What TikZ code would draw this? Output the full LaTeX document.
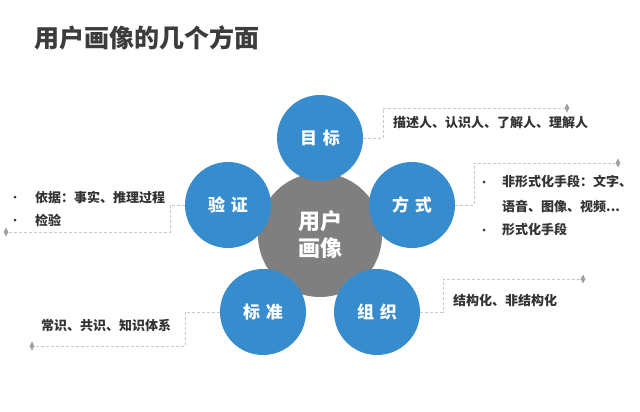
\documentclass[tikz,border=0pt]{standalone}
\usepackage{fontspec}
\setmainfont{Noto Sans CJK SC}
\usetikzlibrary{shapes.geometric}
\definecolor{blueC}{RGB}{55,140,206}
\definecolor{grayC}{RGB}{127,127,127}
\definecolor{lineC}{RGB}{200,200,200}
\definecolor{dmC}{RGB}{160,160,160}
\definecolor{txtC}{RGB}{51,51,51}
\definecolor{titleC}{RGB}{60,60,60}
\tikzset{
  bluecirc/.style={circle, fill=blueC, minimum size=86pt, inner sep=0pt, text=white, font=\fontsize{17}{20}\selectfont\bfseries},
  graycirc/.style={circle, fill=grayC, minimum size=124pt, inner sep=0pt, text=white, align=center, font=\fontsize{22}{27}\selectfont\bfseries},
  conn/.style={draw=lineC, line width=0.8pt, dash pattern=on 3pt off 2pt},
  dmark/.style={diamond, fill=dmC, minimum width=5pt, minimum height=9pt, inner sep=0pt},
  calltext/.style={anchor=west, inner sep=0pt, text=txtC, font=\fontsize{13}{15}\selectfont\bfseries},
  bul/.style={circle, fill=txtC, minimum size=3pt, inner sep=0pt}
}
\begin{document}
\begin{tikzpicture}[x=1pt, y=-1pt]
\useasboundingbox (0,0) rectangle (640,412);
% title
\node[anchor=west, inner sep=0pt, text=titleC, font=\fontsize{25}{30}\selectfont\bfseries] (title) at (34,38) {用户画像的几个方面};
% central circle
\node[graycirc] (G) at (320,235) {用户\\画像};
% blue circles
\node[bluecirc] (mb) at (320,138) {目\hspace{6pt}标};
\node[bluecirc] (fs) at (412,205) {方\hspace{6pt}式};
\node[bluecirc] (zz) at (377,312) {组\hspace{6pt}织};
\node[bluecirc] (bz) at (263,312) {标\hspace{6pt}准};
\node[bluecirc] (yz) at (228,205) {验\hspace{6pt}证};
% diamonds
\node[dmark] (d1) at (567,108) {};
\node[dmark] (d2) at (618,163) {};
\node[dmark] (d3) at (583,279) {};
\node[dmark] (d4) at (32,346) {};
\node[dmark] (d5) at (6,232) {};
% connectors
\coordinate (c1) at (383,138);
\coordinate (c2) at (474,205);
\coordinate (c3) at (443,312);
\coordinate (c4) at (185,312);
\coordinate (c5) at (170,205);
\draw[conn] (mb.east) -- (c1) |- (d1.west);
\draw[conn] (fs.east) -- (c2) |- (d2.west);
\draw[conn] (zz.east) -- (c3) |- (d3.west);
\draw[conn] (bz.west) -- (c4) |- (d4.east);
\draw[conn] (yz.west) -- (c5) |- (d5.east);
% texts
\node[calltext] (t1) at (393,123) {描述人、认识人、了解人、理解人};
\node[bul] (b2a) at (484,182) {};
\node[calltext] (t2a) at (502,182) {非形式化手段：文字、};
\node[calltext] (t2b) at (502,207) {语音、图像、视频...};
\node[bul] (b2c) at (484,230) {};
\node[calltext] (t2c) at (502,230) {形式化手段};
\node[calltext] (t3) at (453,301) {结构化、非结构化};
\node[calltext] (t4) at (41,325) {常识、共识、知识体系};
\node[bul] (b5a) at (15,197) {};
\node[calltext] (t5a) at (35,197) {依据：事实、推理过程};
\node[bul] (b5b) at (15,220) {};
\node[calltext] (t5b) at (35,220) {检验};
\end{tikzpicture}
\end{document}
